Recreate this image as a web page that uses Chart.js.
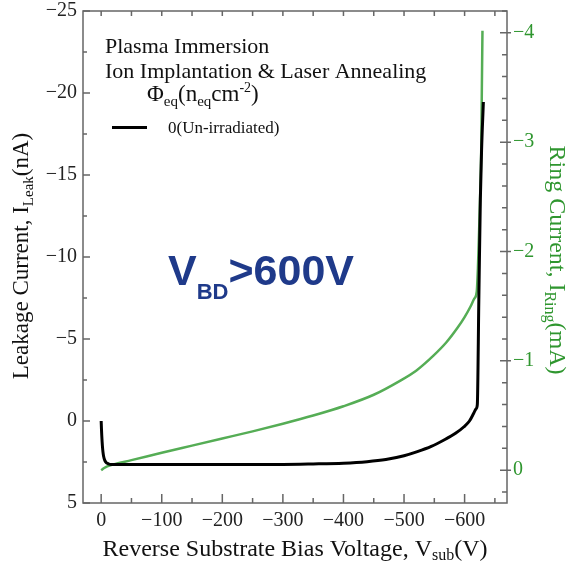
<!DOCTYPE html>
<html>
<head>
<meta charset="utf-8">
<script src="https://cdn.jsdelivr.net/npm/chart.js@4.4.1/dist/chart.umd.min.js"></script>
<style>
  html, body { margin: 0; padding: 0; background: #fff; }
</style>
</head>
<body>
<canvas id="myChart" width="570" height="563"></canvas>
<script>
// values
const leakVoltage = [0, -0.5, -1, -2, -3, -4, -6, -8, -10, -13, -16, -20, -50, -100, -200, -300, -350, -400, -439, -470, -500, -522, -545, -566, -585, -599, -608, -615, -619, -621, -623.5, -626, -628, -631];
const leakCurrent = [0, 0.5, 0.9, 1.5, 1.9, 2.15, 2.4, 2.52, 2.58, 2.63, 2.65, 2.65, 2.65, 2.65, 2.65, 2.65, 2.62, 2.57, 2.48, 2.35, 2.12, 1.87, 1.55, 1.16, 0.75, 0.35, 0.0, -0.47, -0.75, -1.0, -7.4, -13.5, -16.5, -19.45];

const ringVoltage = [0, -5, -10, -20, -50, -100, -150, -200, -250, -300, -350, -400, -450, -494, -520, -549, -570, -588, -600, -610, -616, -620, -622, -624, -625.5, -627.5, -628.5, -629.5];
const ringCurrent = [0.0, -0.02, -0.035, -0.053, -0.092, -0.16, -0.225, -0.29, -0.355, -0.425, -0.5, -0.585, -0.69, -0.82, -0.91, -1.05, -1.17, -1.3, -1.4, -1.5, -1.57, -1.63, -1.85, -2.2, -2.48, -2.94, -3.5, -4.02];

const voltageTicks = [0, -100, -200, -300, -400, -500, -600];
const leakTicks = [-25, -20, -15, -10, -5, 0, 5];
const ringTicks = [-4, -3, -2, -1, 0];

const SERIF = "'Liberation Serif', 'Times New Roman', serif";
const SANS = "'Liberation Sans', Arial, sans-serif";
const GREEN_LINE = '#55ad55';
const GREEN_TEXT = '#2f962f';
const NAVY = '#1f3a8a';

const minus = v => (v < 0 ? '\u2212' + Math.abs(v) : String(v));

function drawRich(ctx, parts, x, y) {
    let cx = x;
    parts.forEach(p => {
        ctx.font = p.font;
        ctx.fillText(p.text, cx, y + (p.dy || 0));
        cx += ctx.measureText(p.text).width;
    });
}
function richWidth(ctx, parts) {
    let w = 0;
    parts.forEach(p => {
        ctx.font = p.font;
        w += ctx.measureText(p.text).width;
    });
    return w;
}

// frame with inward ticks on all sides
const framePlugin = {
    id: 'frame',
    afterDraw(chart) {
        const { ctx, chartArea: a, scales: { x, y, y2 } } = chart;
        ctx.save();
        ctx.strokeStyle = '#666';
        ctx.lineWidth = 1.5;
        ctx.strokeRect(a.left, a.top, a.right - a.left, a.bottom - a.top);
        ctx.beginPath();
        for (let k = 0; k <= 13; k++) {
            const px = x.getPixelForValue(-50 * k);
            const len = k % 2 === 0 ? 9 : 5;
            ctx.moveTo(px, a.bottom);
            ctx.lineTo(px, a.bottom - len);
            ctx.moveTo(px, a.top);
            ctx.lineTo(px, a.top + 5);
        }
        for (let k = -10; k <= 2; k++) {
            const py = y.getPixelForValue(2.5 * k);
            const len = k % 2 === 0 ? 7 : 4;
            ctx.moveTo(a.left, py);
            ctx.lineTo(a.left + len, py);
        }
        for (let k = -21; k <= 1; k++) {
            const py = y2.getPixelForValue(0.2 * k);
            if (k % 5 === 0) {
                ctx.moveTo(a.right - 7, py);
                ctx.lineTo(a.right + 4, py);
            } else {
                ctx.moveTo(a.right - 5, py);
                ctx.lineTo(a.right, py);
            }
        }
        ctx.stroke();
        ctx.restore();
    }
};

// axis titles and annotations
const textPlugin = {
    id: 'texts',
    afterDraw(chart) {
        const ctx = chart.ctx;
        ctx.save();
        ctx.textBaseline = 'alphabetic';
        ctx.textAlign = 'left';

        // left title
        ctx.fillStyle = '#111';
        let parts = [
            { text: 'Leakage Current, I', font: '23px ' + SERIF },
            { text: 'Leak', font: '15px ' + SERIF, dy: 5 },
            { text: '(nA)', font: '23px ' + SERIF }
        ];
        ctx.save();
        ctx.translate(28, 256);
        ctx.rotate(-Math.PI / 2);
        drawRich(ctx, parts, -richWidth(ctx, parts) / 2, 0);
        ctx.restore();

        // right title
        ctx.fillStyle = GREEN_TEXT;
        parts = [
            { text: 'Ring Current, I', font: '24px ' + SERIF },
            { text: 'Ring', font: '16px ' + SERIF, dy: 5 },
            { text: '(mA)', font: '24px ' + SERIF }
        ];
        ctx.save();
        ctx.translate(550, 260);
        ctx.rotate(Math.PI / 2);
        drawRich(ctx, parts, -richWidth(ctx, parts) / 2, 0);
        ctx.restore();

        // bottom title
        ctx.fillStyle = '#111';
        parts = [
            { text: 'Reverse Substrate Bias Voltage, V', font: '24px ' + SERIF },
            { text: 'sub', font: '16px ' + SERIF, dy: 4 },
            { text: '(V)', font: '24px ' + SERIF }
        ];
        drawRich(ctx, parts, 295 - richWidth(ctx, parts) / 2, 556);

        // annotation block
        ctx.font = '22px ' + SERIF;
        ctx.fillText('Plasma Immersion', 105, 53);
        ctx.fillText('Ion Implantation & Laser Annealing', 105, 78);
        drawRich(ctx, [
            { text: '\u03A6', font: '23px ' + SERIF },
            { text: 'eq', font: '15px ' + SERIF, dy: 5 },
            { text: '(n', font: '23px ' + SERIF },
            { text: 'eq', font: '15px ' + SERIF, dy: 5 },
            { text: 'cm', font: '23px ' + SERIF },
            { text: '-2', font: '14px ' + SERIF, dy: -9 },
            { text: ')', font: '23px ' + SERIF }
        ], 147, 101);

        ctx.strokeStyle = '#000';
        ctx.lineWidth = 3;
        ctx.beginPath();
        ctx.moveTo(112, 127.5);
        ctx.lineTo(147, 127.5);
        ctx.stroke();
        ctx.font = '17px ' + SERIF;
        ctx.fillText('0(Un-irradiated)', 168, 133);

        // breakdown label
        ctx.fillStyle = NAVY;
        drawRich(ctx, [
            { text: 'V', font: 'bold 43px ' + SANS },
            { text: 'BD', font: 'bold 22px ' + SANS, dy: 14 },
            { text: '>600V', font: 'bold 43px ' + SANS }
        ], 168, 285);
        ctx.restore();
    }
};

const chartContext = document.getElementById('myChart').getContext('2d');

const chart = new Chart(chartContext, {
    type: 'line',
    data: {
        datasets: [{
            label: '0(Un-irradiated)',
            data: leakVoltage.map((v, i) => ({ x: v, y: leakCurrent[i] })),
            borderColor: '#000',
            borderWidth: 3,
            pointRadius: 0,
            cubicInterpolationMode: 'monotone',
            yAxisID: 'y'
        }, {
            label: 'Ring current',
            data: ringVoltage.map((v, i) => ({ x: v, y: ringCurrent[i] })),
            borderColor: GREEN_LINE,
            borderWidth: 2.5,
            pointRadius: 0,
            cubicInterpolationMode: 'monotone',
            yAxisID: 'y2'
        }]
    },
    options: {
        responsive: false,
        animation: false,
        layout: { padding: { top: 11, left: 0, right: 0, bottom: 0 } },
        plugins: {
            legend: { display: false },
            tooltip: { enabled: false }
        },
        scales: {
            x: {
                type: 'linear',
                position: 'bottom',
                min: -670,
                max: 30,
                reverse: true,
                grid: { display: false },
                border: { display: false },
                afterBuildTicks: s => { s.ticks = voltageTicks.map(v => ({ value: v })); },
                afterFit: s => { s.height = 60; },
                ticks: {
                    padding: -2,
                    maxRotation: 0,
                    color: '#222',
                    font: { family: SERIF, size: 20 },
                    callback: v => minus(v)
                }
            },
            y: {
                type: 'linear',
                position: 'left',
                min: -25,
                max: 5,
                reverse: true,
                grid: { display: false },
                border: { display: false },
                afterBuildTicks: s => { s.ticks = leakTicks.map(v => ({ value: v })); },
                afterFit: s => { s.width = 83; },
                ticks: {
                    padding: -2,
                    color: '#222',
                    font: { family: SERIF, size: 20 },
                    callback: v => minus(v)
                }
            },
            y2: {
                type: 'linear',
                position: 'right',
                min: -4.2,
                max: 0.3,
                reverse: true,
                grid: { display: false },
                border: { display: false },
                afterBuildTicks: s => { s.ticks = ringTicks.map(v => ({ value: v })); },
                afterFit: s => { s.width = 63; },
                ticks: {
                    padding: -2,
                    color: GREEN_TEXT,
                    font: { family: SERIF, size: 20 },
                    callback: v => minus(v)
                }
            }
        }
    },
    plugins: [framePlugin, textPlugin]
});
</script>
</body>
</html>
